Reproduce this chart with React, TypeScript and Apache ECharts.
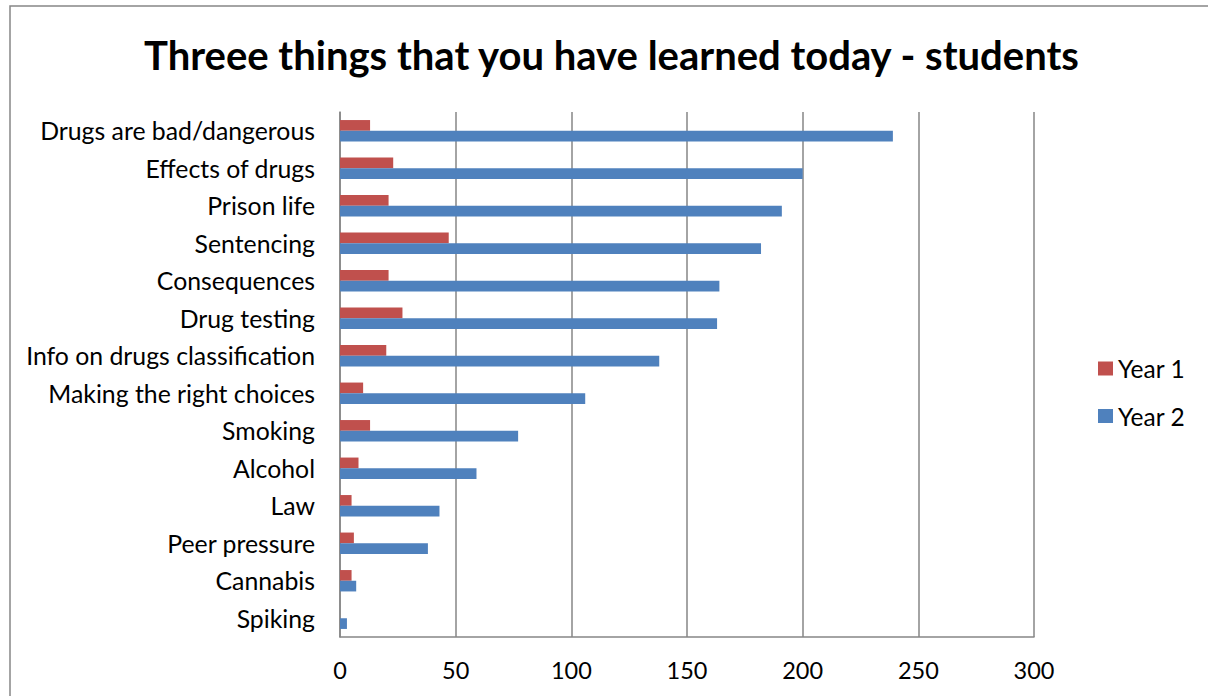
import React, { useEffect, useRef } from "react";
import * as echarts from "echarts";

const categories = [
  "Drugs are bad/dangerous",
  "Effects of drugs",
  "Prison life",
  "Sentencing",
  "Consequences",
  "Drug testing",
  "Info on drugs classification",
  "Making the right choices",
  "Smoking",
  "Alcohol",
  "Law",
  "Peer pressure",
  "Cannabis",
  "Spiking",
];
const year1 = [13, 23, 21, 47, 21, 27, 20, 10, 13, 8, 5, 6, 5, 0];
const year2 = [239, 200, 191, 182, 164, 163, 138, 106, 77, 59, 43, 38, 7, 3];
const seriesNames = ["Year 1", "Year 2"];
const xTicks = { min: 0, max: 300, interval: 50 };
const titleText = "Threee things that you have learned today - students";

const FONT = "Lato";

export default function App() {
  const ref = useRef<HTMLDivElement>(null);
  useEffect(() => {
    if (!ref.current) return;
    const chart = echarts.init(ref.current, null, { renderer: "svg" });
    chart.setOption({
      animation: false,
      backgroundColor: "#ffffff",
      textStyle: { fontFamily: FONT },
      title: {
        text: titleText,
        left: 144,
        top: 31,
        padding: 0,
        textStyle: { fontFamily: FONT, fontWeight: "bold", fontSize: 40, color: "#000", lineHeight: 48 },
      },
      graphic: [
        {
          type: "rect",
          shape: { x: 10, y: 6, width: 1400, height: 900 },
          style: { fill: "none", stroke: "#868686", lineWidth: 1.5 },
          silent: true,
        },
      ],
      legend: {
        orient: "vertical",
        left: 1098,
        top: 356,
        padding: 0,
        itemWidth: 15,
        itemHeight: 14,
        itemGap: 22.5,
        icon: "rect",
        textStyle: { fontFamily: FONT, fontSize: 24.5, color: "#000", lineHeight: 25 },
        data: seriesNames,
      },
      grid: { left: 340, top: 112, width: 694, height: 525, containLabel: false },
      xAxis: {
        type: "value",
        min: xTicks.min,
        max: xTicks.max,
        interval: xTicks.interval,
        axisLine: { show: true, lineStyle: { color: "#868686", width: 1.5 } },
        axisTick: { show: false },
        axisLabel: { fontFamily: FONT, fontSize: 23.5, color: "#000", margin: 21 },
        splitLine: { show: true, lineStyle: { color: "#868686", width: 1.5 } },
      },
      yAxis: {
        type: "category",
        data: categories,
        inverse: true,
        axisLine: { show: true, lineStyle: { color: "#868686", width: 1.5 } },
        axisTick: { show: false },
        axisLabel: { fontFamily: FONT, fontSize: 24.8, color: "#000", margin: 25 },
      },
      series: [
        {
          name: seriesNames[0],
          type: "bar",
          data: year1,
          barWidth: 10.7,
          barGap: "0%",
          itemStyle: { color: "#C0504D" },
        },
        {
          name: seriesNames[1],
          type: "bar",
          data: year2,
          barWidth: 10.7,
          barGap: "0%",
          itemStyle: { color: "#4F81BD" },
        },
      ],
    });
    return () => chart.dispose();
  }, []);
  return (
    <div
      ref={ref}
      style={{ position: "fixed", left: 0, top: 0, width: 1208, height: 696 }}
    />
  );
}
